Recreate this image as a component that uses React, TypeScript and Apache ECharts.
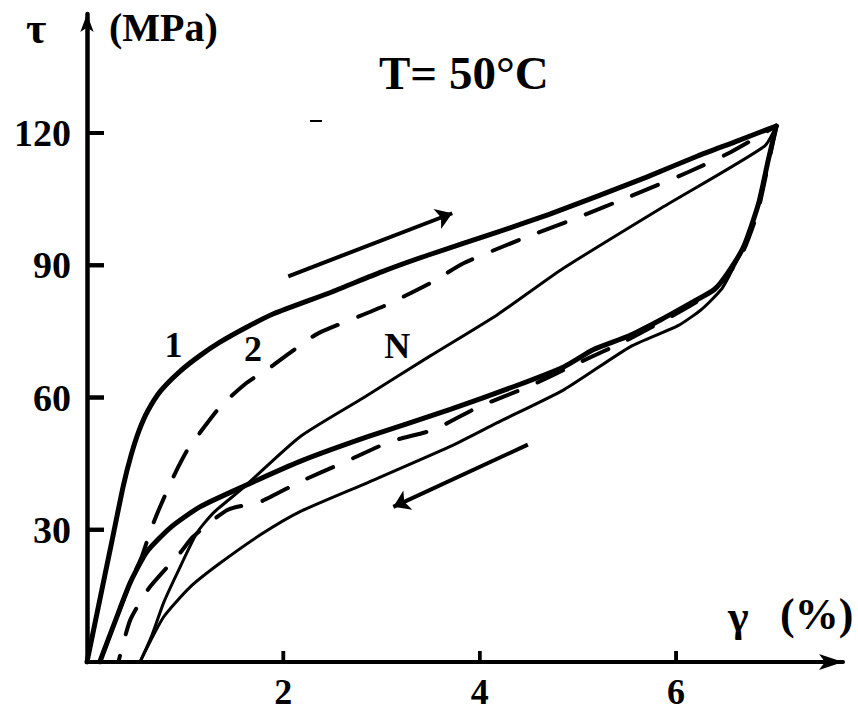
import React, { useEffect, useRef } from "react";
import * as echarts from "echarts";

const xTicks = [2, 4, 6];
const yTicks = [30, 60, 90, 120];

// Curve 1 (thick solid): loading branch
const curve1Loading: number[][] = [
  [0, 0], [0.12, 13], [0.25, 27], [0.37, 40], [0.45, 47], [0.53, 52.5], [0.62, 57],
  [0.75, 61.5], [0.95, 66], [1.15, 69.5], [1.35, 72.5], [1.63, 76], [1.9, 79],
  [2.5, 84], [3.0, 88.5], [3.5, 92.5], [4.18, 97.5], [4.7, 101.5], [5.2, 105.7],
  [5.7, 110], [6.22, 114.8], [6.6, 118], [7.02, 121.6],
];
// Curve 1 (thick solid): unloading branch
const curve1Unloading: number[][] = [
  [7.02, 121.6], [6.94, 114], [6.84, 104], [6.69, 94.3], [6.53, 88.4], [6.39, 84.5],
  [6.18, 81.8], [5.85, 77.7], [5.51, 73.9], [5.16, 70.9], [4.86, 67], [4.35, 62.5],
  [3.7, 57.3], [2.86, 51.1], [2.17, 45.5], [1.59, 39.8], [1.15, 35.2], [0.85, 30.5],
  [0.61, 25], [0.44, 18], [0.3, 10], [0.13, 0],
];
// Curve 2 (dashed): loading branch
const curve2Loading: number[][] = [
  [0.13, 0], [0.3, 10], [0.44, 18], [0.56, 24], [0.65, 30], [0.74, 35], [0.88, 42],
  [1.02, 48], [1.15, 52], [1.36, 58], [1.63, 63.4], [1.84, 66.4], [2.07, 70.2],
  [2.35, 74.5], [3.02, 80.7], [3.5, 86], [3.84, 90.5], [4.42, 95.9], [4.96, 100.5],
  [5.54, 105.7], [6.12, 111.1], [6.56, 115.7], [7.02, 121.6],
];
// Curve 2 (dashed): unloading branch
const curve2Unloading: number[][] = [
  [7.02, 121.6], [6.93, 112], [6.83, 102], [6.68, 93], [6.5, 87], [6.3, 83], [6.0, 79],
  [5.5, 73], [5.0, 67.8], [4.5, 62.5], [4.0, 58], [3.53, 52.7], [3.09, 50], [2.61, 45.2],
  [2.17, 40.9], [1.77, 36.4], [1.43, 34.5], [1.08, 28.4], [0.95, 24.8], [0.64, 17],
  [0.44, 9.5], [0.32, 0],
];
// Curve N (thin solid): loading branch
const curveNLoading: number[][] = [
  [0.54, 0], [0.66, 6], [0.78, 13.4], [0.92, 20.2], [1.12, 29.3], [1.29, 33.9],
  [1.59, 39.5], [2.17, 51.1], [2.82, 60], [3.5, 69.5], [4.18, 78.8], [4.83, 89],
  [5.85, 103], [6.9, 117], [7.02, 121.6],
];
// Curve N (thin solid): unloading branch
const curveNUnloading: number[][] = [
  [7.02, 121.6], [6.94, 114], [6.84, 104], [6.69, 94.3], [6.55, 88], [6.46, 84.5],
  [6.26, 80], [6.02, 76.3], [5.54, 71.6], [4.86, 61.8], [4.18, 54.3], [3.7, 48.9],
  [2.86, 40.7], [2.17, 34.1], [1.77, 28.9], [1.36, 22.5], [1.05, 17], [0.78, 10.2],
  [0.54, 0],
];

const curveLabelNames = ["1", "2", "N"];
const curveLabelPos: number[][] = [[0.88, 72], [1.69, 71], [3.16, 71.6]];

const loadArrow = [[2.05, 87.5], [3.72, 101.8]];
const unloadArrow = [[4.49, 49.3], [3.12, 35.2]];

const FONT = "Liberation Serif";
const W = 858;
const H = 711;
const GRID = { left: 87, right: 15, top: 14, bottom: 49 };
const X_MAX = 7.7;
const Y_MAX = 147;

export default function App() {
  const ref = useRef<HTMLDivElement>(null);
  useEffect(() => {
    const chart = echarts.init(ref.current!, null, { renderer: "svg" });
    const lineSeries = (data: number[][], width: number, dashed: boolean) => ({
      type: "line",
      data,
      symbol: "none",
      smooth: 0.2,
      silent: true,
      lineStyle: {
        color: "#000",
        width,
        type: dashed ? [28, 22] : "solid",
        cap: "round",
        join: "round",
      },
      z: 3,
    });

    // inward tick marks derived from the grid layout and the axis extents
    const plotW = W - GRID.left - GRID.right;
    const plotH = H - GRID.top - GRID.bottom;
    const xToPx = (v: number) => GRID.left + (v / X_MAX) * plotW;
    const yToPx = (v: number) => H - GRID.bottom - (v / Y_MAX) * plotH;
    const layoutTicks = [
      ...yTicks.map((v, i) => ({
        id: "lyt" + i,
        type: "rect",
        z: 10,
        shape: { x: GRID.left, y: yToPx(v) - 2, width: 17, height: 4 },
        style: { fill: "#000" },
      })),
      ...xTicks.map((v, i) => ({
        id: "lxt" + i,
        type: "rect",
        z: 10,
        shape: { x: xToPx(v) - 1.75, y: H - GRID.bottom - 11, width: 3.5, height: 11 },
        style: { fill: "#000" },
      })),
    ];

    const staticGraphics: any[] = [
      { id: "tau", type: "text", left: 26, top: 6, style: { text: "τ", font: `bold 44px "${FONT}"`, fill: "#000" } },
      { id: "mpa", type: "text", left: 109, top: 7, style: { text: "(MPa)", font: `bold 40px "${FONT}"`, fill: "#000" } },
      { id: "gamma", type: "text", left: 728, top: 594, style: { text: "γ", font: `bold 44px "${FONT}"`, fill: "#000" } },
      { id: "pct", type: "text", left: 780, top: 592, style: { text: "(%)", font: `bold 44px "${FONT}"`, fill: "#000" } },
      { id: "speck", type: "rect", shape: { x: 310, y: 120, width: 12, height: 2 }, style: { fill: "#000" } },
      ...layoutTicks,
    ];

    chart.setOption({
      animation: false,
      backgroundColor: "#fff",
      grid: { ...GRID, containLabel: false },
      title: {
        text: "T= 50°C",
        left: 374,
        top: 44,
        textStyle: { fontFamily: FONT, fontWeight: "bold", fontSize: 47, color: "#000" },
      },
      xAxis: {
        type: "value",
        min: 0,
        max: X_MAX,
        splitLine: { show: false },
        axisLine: { show: true, onZero: false, symbol: ["none", "arrow"], symbolSize: [12, 24], lineStyle: { color: "#000", width: 4 } },
        axisTick: { show: false },
        axisLabel: { customValues: xTicks, margin: 12, fontFamily: FONT, fontWeight: "bold", fontSize: 36, color: "#000" },
      },
      yAxis: {
        type: "value",
        min: 0,
        max: Y_MAX,
        splitLine: { show: false },
        axisLine: { show: true, onZero: false, symbol: ["none", "arrow"], symbolSize: [10, 18], lineStyle: { color: "#000", width: 4.5 } },
        axisTick: { show: false },
        axisLabel: { customValues: yTicks, margin: 16, fontFamily: FONT, fontWeight: "bold", fontSize: 38, color: "#000" },
      },
      graphic: staticGraphics,
      series: [
        lineSeries(curve1Loading, 5, false),
        lineSeries(curve1Unloading, 5, false),
        lineSeries(curve2Loading, 4, true),
        lineSeries(curve2Unloading, 4, true),
        lineSeries(curveNLoading, 3, false),
        {
          ...lineSeries(curveNUnloading, 3, false),
          markLine: {
            silent: true,
            symbol: ["none", "arrow"],
            symbolSize: 16,
            label: { show: false },
            lineStyle: { color: "#000", width: 4, type: "solid" },
            data: [
              [{ coord: loadArrow[0] }, { coord: loadArrow[1] }],
              [{ coord: unloadArrow[0] }, { coord: unloadArrow[1] }],
            ],
          },
        },
      ],
    });

    // Tick marks and curve labels placed through the chart's own scales
    const toPx = (p: number[]) => chart.convertToPixel({ gridIndex: 0 }, p) as number[];
    const tickEls = [
      ...yTicks.map((v, i) => {
        const p = toPx([0, v]);
        return { id: "yt" + i, type: "rect", z: 10, shape: { x: p[0], y: p[1] - 2, width: 17, height: 4 }, style: { fill: "#000" } };
      }),
      ...xTicks.map((v, i) => {
        const p = toPx([v, 0]);
        return { id: "xt" + i, type: "rect", z: 10, shape: { x: p[0] - 1.75, y: p[1] - 11, width: 3.5, height: 11 }, style: { fill: "#000" } };
      }),
    ];
    const labelEls = curveLabelNames.map((name, i) => {
      const p = toPx(curveLabelPos[i]);
      return {
        id: "cl" + i,
        type: "text",
        z: 10,
        x: p[0],
        y: p[1],
        style: { text: name, font: `bold 36px "${FONT}"`, fill: "#000", align: "center", verticalAlign: "middle" },
      };
    });
    chart.setOption({ graphic: [...staticGraphics, ...tickEls, ...labelEls] });

    return () => chart.dispose();
  }, []);
  return (
    <div
      ref={ref}
      style={{ position: "fixed", left: 0, top: 0, width: W, height: H, background: "#fff" }}
    />
  );
}
